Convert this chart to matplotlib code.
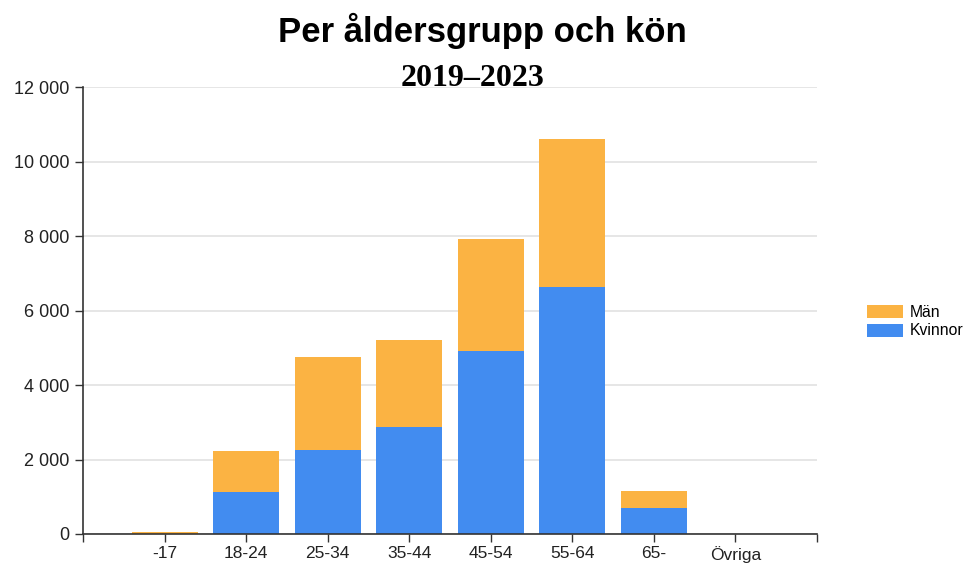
import numpy as np
import matplotlib.pyplot as plt
from matplotlib.ticker import FuncFormatter

# age groups and counts per sex
groups = ['-17', '18-24', '25-34', '35-44', '45-54', '55-64', '65-', 'Övriga']
kvinnor = [10, 1120, 2250, 2870, 4910, 6630, 690, 0]
man = [50, 1110, 2500, 2350, 3010, 3980, 460, 0]
yticks = [0, 2000, 4000, 6000, 8000, 10000, 12000]

orange = '#FBB343'
blue = '#428CF0'

plt.rcParams['font.family'] = ['Liberation Sans', 'DejaVu Sans']

fig = plt.figure(figsize=(9.65, 5.64), dpi=100)
ax = fig.add_axes([0.086, 0.0532, 0.7606, 0.7925])

x = np.arange(len(groups))
ax.bar(x, kvinnor, width=0.81, color=blue, label='Kvinnor', zorder=2)
ax.bar(x, man, width=0.81, bottom=kvinnor, color=orange, label='Män', zorder=2)

ax.set_xlim(-1, len(groups))
ax.set_ylim(0, 12000)
ax.set_xticks(x)
ax.set_xticklabels(groups, fontsize=12.5, color='#222222')
ax.set_xticks([-1, len(groups)], minor=True)
ax.tick_params(axis='x', which='both', length=6, width=1, color='#333333',
               direction='out', pad=2.5)
ax.set_yticks(yticks)
ax.yaxis.set_major_formatter(FuncFormatter(lambda v, p: f'{int(v):,}'.replace(',', ' ')))
ax.tick_params(axis='y', length=6, width=1, color='#333333', labelsize=13, labelcolor='#222222')
ax.grid(axis='y', color='#e2e2e2', lw=1.2, zorder=0)

for s in ['top', 'right']:
    ax.spines[s].set_visible(False)
for s in ['left', 'bottom']:
    ax.spines[s].set_color('#333333')
    ax.spines[s].set_linewidth(1.2)

handles, labels = ax.get_legend_handles_labels()
fig.legend(handles[::-1], labels[::-1], loc='center left', bbox_to_anchor=(0.892, 0.43),
           frameon=False, fontsize=11.3, handlelength=2.3, handleheight=0.9,
           handletextpad=0.4, labelspacing=0.25, borderaxespad=0)

fig.text(0.4995, 1 - 42 / 564, 'Per åldersgrupp och kön', ha='center', va='baseline',
         fontsize=25, fontweight='bold', color='#000000')
fig.text(0.490, 1 - 86 / 564, '2019–2023', ha='center', va='baseline',
         fontsize=23, fontweight='bold', family='Liberation Serif', color='#000000')

fig.savefig('out.png', dpi=100)
